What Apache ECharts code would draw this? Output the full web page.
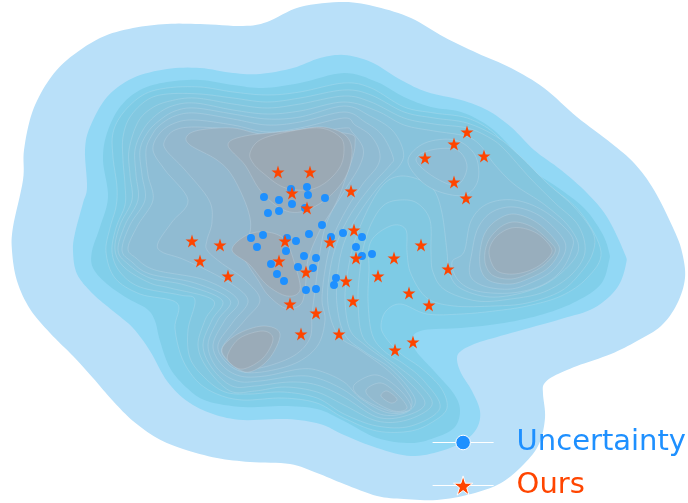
<!DOCTYPE html>
<html><head><meta charset="utf-8">
<style>html,body{margin:0;padding:0;background:#fff}#c{width:688px;height:503px}</style>
<script src="https://cdn.jsdelivr.net/npm/echarts@6/dist/echarts.min.js"></script>
</head><body><div id="c"></div>
<script>
// density contour levels
const level0=[[344,2],[377,7],[411,18],[444,37],[477,53],[511,68],[544,88],[577,117],[611,143],[634,163],[654,190],[674,230],[682,252],[685,278],[677,304],[661,326],[637,341],[611,354],[577,366],[554,376],[544,384],[543,394],[545,418],[539,444],[524,464],[501,483],[471,494],[437,500],[404,499],[377,496],[344,484],[317,473],[290,464],[250,462],[217,458],[183,449],[157,438],[133,421],[113,401],[93,378],[73,356],[50,333],[30,309],[17,281],[12,251],[13,227],[23,180],[24,150],[32,113],[47,83],[67,60],[100,38],[133,28],[167,24],[200,24],[243,26],[267,22],[300,7]];
const level1=[[344,55],[371,62],[401,80],[427,92],[461,100],[487,110],[511,127],[534,150],[561,170],[587,193],[607,217],[624,252],[626,264],[617,288],[594,308],[561,319],[511,333],[477,343],[461,351],[457,359],[461,373],[472,391],[480,411],[477,428],[464,441],[441,451],[411,456],[377,448],[344,435],[320,424],[287,419],[243,420],[213,414],[187,401],[167,381],[150,351],[133,328],[113,311],[93,294],[77,274],[73,251],[75,233],[83,203],[87,187],[85,150],[90,127],[107,97],[133,78],[167,69],[200,68],[233,73],[260,74],[293,68],[320,58]];
const level2=[[344,73],[377,82],[404,97],[431,107],[461,112],[487,125],[507,143],[527,167],[557,187],[584,208],[602,233],[609,252],[609,261],[601,284],[577,301],[544,314],[504,323],[461,328],[424,330],[412,338],[416,351],[434,371],[454,394],[460,411],[454,428],[434,438],[411,443],[377,438],[344,421],[317,409],[283,406],[243,407],[207,401],[187,388],[170,368],[160,341],[155,321],[147,309],[127,298],[107,284],[93,268],[92,251],[100,227],[108,197],[103,160],[107,133],[120,107],[140,90],[167,82],[200,80],[233,85],[263,88],[300,83]];
const level3=[[344,83],[371,88],[404,107],[434,113],[467,118],[494,133],[517,160],[551,187],[581,213],[601,252],[587,278],[561,296],[527,306],[494,311],[461,314],[427,314],[401,304],[386,311],[381,326],[386,338],[401,354],[421,368],[441,388],[447,408],[434,421],[411,431],[377,431],[344,418],[317,403],[283,398],[243,400],[217,394],[197,381],[182,358],[175,328],[177,303],[140,294],[115,278],[106,252],[110,228],[116,207],[117,187],[113,157],[113,133],[123,113],[143,95],[167,88],[200,87],[233,92],[267,95],[300,92]];
const level4=[[344,90],[371,95],[404,112],[434,118],[467,123],[497,137],[521,157],[547,183],[574,207],[593,233],[593,252],[582,271],[561,291],[527,303],[494,306],[454,306],[427,298],[411,274],[407,252],[406,230],[394,225],[377,234],[369,247],[369,270],[368,301],[372,334],[384,351],[404,364],[424,381],[440,408],[411,426],[377,426],[344,414],[317,398],[283,392],[250,394],[225,392],[205,378],[190,358],[188,330],[195,300],[180,295],[140,287],[120,272],[112,252],[116,228],[125,205],[125,185],[123,160],[123,137],[130,117],[147,100],[167,94],[200,94],[233,98],[267,102],[300,98]];
const level5=[[344,96],[371,102],[404,118],[434,124],[467,128],[490,138],[505,150],[530,178],[555,203],[578,225],[585,252],[571,275],[544,292],[511,299],[477,301],[445,290],[433,272],[431,252],[430,220],[417,203],[400,200],[384,205],[372,222],[364,245],[360,270],[358,300],[362,335],[378,352],[400,368],[420,385],[432,405],[407,420],[377,421],[344,405],[317,392],[285,387],[255,391],[230,391],[207,368],[198,345],[205,320],[213,300],[170,288],[150,283],[125,268],[115,250],[120,225],[132,200],[130,175],[129,150],[138,122],[152,108],[170,101],[195,98],[233,104],[267,108],[300,104]];
const level6=[[344,102],[377,111],[404,125],[434,131],[465,136],[480,145],[495,165],[515,185],[545,205],[570,228],[578,252],[555,278],[525,292],[490,297],[460,288],[449,272],[447,252],[442,213],[434,190],[420,180],[401,176],[385,183],[370,205],[355,240],[348,270],[345,300],[350,330],[365,345],[385,360],[405,378],[425,403],[405,416],[377,417],[344,397],[317,385],[290,382],[255,386],[232,386],[212,368],[203,345],[212,320],[222,300],[185,285],[150,278],[128,264],[118,250],[125,225],[138,200],[136,175],[135,150],[143,130],[155,116],[172,106],[195,103],[233,110],[267,114],[300,111]];
const level7=[[344,106],[370,116],[392,130],[403,150],[400,165],[380,185],[360,212],[345,240],[338,270],[337,305],[345,335],[365,352],[390,368],[410,390],[415,404],[402,414],[377,413],[344,390],[317,378],[295,376],[260,381],[237,381],[217,368],[208,345],[218,320],[230,300],[195,283],[150,274],[132,262],[122,250],[130,225],[145,200],[142,175],[140,150],[148,132],[160,120],[175,111],[195,108],[233,114],[267,119],[300,117]];
const level7Right=[[464,252],[471,221],[487,204],[514,200],[544,211],[571,235],[571,252],[560,272],[540,286],[511,293],[477,291],[458,280],[452,262]];
const level7Upper=[[408,160],[425,143],[455,140],[475,155],[478,180],[465,195],[440,192],[420,180]];
const level8=[[344,112],[365,122],[382,135],[393,157],[390,165],[372,185],[352,212],[338,240],[330,270],[328,305],[338,335],[360,350],[385,368],[402,385],[412,402],[405,412],[385,412],[360,398],[344,382],[320,371],[300,369],[265,376],[240,376],[222,365],[213,345],[225,320],[238,300],[205,280],[155,270],[136,258],[128,248],[138,225],[153,200],[148,175],[146,150],[152,135],[160,125],[175,116],[195,113],[233,119],[267,125],[300,122]];
const level8Right=[[472,252],[478,228],[492,212],[514,207],[540,216],[562,237],[565,252],[553,270],[535,281],[511,289],[484,286],[470,275]];
const level8Upper=[[416,160],[431,150],[457,150],[467,167],[457,185],[434,177]];
const level9=[[344,118],[355,125],[370,135],[379,150],[378,165],[362,185],[345,212],[332,240],[325,270],[322,300],[325,320],[318,345],[298,362],[268,371],[243,372],[226,362],[218,345],[233,322],[248,300],[225,280],[185,260],[162,252],[158,243],[172,222],[188,200],[165,170],[153,150],[160,133],[175,123],[195,120],[233,125],[267,132],[300,128]];
const level9Right=[[480,252],[485,233],[497,220],[514,214],[536,222],[555,240],[559,252],[548,268],[530,278],[511,284],[490,281],[481,270]];
const level9Lower=[[356,383],[377,375],[400,390],[411,408],[394,412],[370,403],[355,392]];
const level10=[[344,128],[352,132],[363,148],[360,165],[345,190],[330,215],[322,240],[315,290],[312,315],[310,338],[295,355],[268,366],[245,369],[230,362],[222,348],[245,320],[260,300],[245,280],[220,262],[207,250],[207,240],[212,222],[209,200],[185,170],[166,150],[165,140],[175,130],[195,127],[233,130],[267,138],[300,135]];
const level10Right=[[485,252],[490,238],[502,226],[516,222],[534,228],[551,243],[555,252],[544,265],[528,274],[511,279],[494,276],[486,266]];
const level10Lower=[[366,390],[381,383],[397,394],[407,408],[394,411],[374,401]];
const level11=[[187,136],[200,130],[233,128],[270,135],[344,133],[355,145],[345,180],[335,205],[320,230],[308,260],[305,290],[300,305],[285,308],[268,295],[258,280],[248,265],[240,250],[250,232],[248,210],[233,177],[217,160],[190,145]];
const level11Lower=[[222,352],[236,335],[263,326],[280,334],[268,360],[245,372]];
const level11Right=[[489,252],[495,238],[508,229],[522,228],[538,234],[550,246],[551,254],[540,265],[525,272],[508,274],[495,269]];
const level11Low2=[[381,396],[387,391],[397,399],[391,403]];
const level12=[[228,145],[245,136],[290,131],[322,127],[345,135],[352,152],[345,178],[325,200],[300,212],[280,208],[260,190],[245,165]];
const level12Center=[[232,250],[247,235],[267,232],[285,240],[295,265],[300,290],[287,296],[267,285],[250,265]];
const level12Lower=[[228,354],[240,338],[263,331],[273,339],[263,358],[243,369],[230,363]];
const level13=[[250,153],[260,140],[287,132],[320,128],[340,137],[344,150],[340,167],[325,183],[307,190],[283,187],[263,173],[253,163]];
const contourList=[level0,level1,level2,level3,level4,level5,level6,level7,level7Right,level7Upper,level8,level8Right,level8Upper,level9,level9Right,level9Lower,level10,level10Right,level10Lower,level11,level11Lower,level11Right,level11Low2,level12,level12Center,level12Lower,level13];
const contourColors=['#b9e0f9','#92d8f5','#81cfea','#7ecbe5','#82c8e1','#85c6de','#88c3dc','#8bc1d9','#8bc1d9','#8bc1d9','#8ebed6','#8ebed6','#8ebed6','#90bbd2','#92b9cd','#8fbdd4','#93b8ce','#95b3c5','#92bacf','#96b2c4','#97b0c0','#98aebd','#95b5c8','#99acba','#9aabb8','#9aabb8','#9ba9b4'];
const uncertainty=[[264,197],[279,200],[291,189],[292,204],[307,187],[308,195],[325,198],[305,208],[268,213],[279,211],[322,225],[309,234],[331,237],[343,233],[251,238],[263,235],[257,247],[287,238],[296,241],[286,251],[304,256],[316,258],[271,264],[298,267],[313,268],[277,274],[284,281],[336,278],[334,285],[306,290],[316,289],[362,237],[356,247],[362,256],[372,254]];
const ours=[[278,172],[310,172],[292,193],[307,208],[192,241],[220,245],[285,241],[330,242],[351,191],[354,230],[421,245],[425,158],[454,144],[467,132],[484,156],[454,182],[466,198],[200,261],[228,276],[279,261],[306,272],[290,304],[316,313],[301,334],[339,334],[346,281],[356,258],[394,258],[448,269],[378,276],[409,293],[429,305],[353,301],[413,342],[395,350]];
const seriesNames=['Uncertainty','Ours'];
const BLUE='#1e90ff',RED='#ff4500';
const STAR='path://M50 0 L61.8 36.3 L100 36.3 L69.1 58.8 L80.9 95.1 L50 72.6 L19.1 95.1 L30.9 58.8 L0 36.3 L38.2 36.3 Z';
// circle inside a 100-unit box, so the legend can size it smaller than the star
const DOT='path://M0 0 M100 100 M50 12 A38 38 0 1 1 49.99 12 Z';

// closed Catmull-Rom outline through the projected contour points
function smoothClosed(pts){
  const n=pts.length,out=[];
  for(let i=0;i<n;i++){
    const a=pts[(i-1+n)%n],b=pts[i],c=pts[(i+1)%n],d=pts[(i+2)%n];
    for(let k=0;k<8;k++){
      const t=k/8,t2=t*t,t3=t2*t;
      out.push([0,1].map(j=>0.5*(2*b[j]+(c[j]-a[j])*t+(2*a[j]-5*b[j]+4*c[j]-d[j])*t2+(3*b[j]-a[j]-3*c[j]+d[j])*t3)));
    }
  }
  return out;
}

const chart=echarts.init(document.getElementById('c'),null,{renderer:'canvas'});
chart.setOption({
  animation:false,
  backgroundColor:'#fff',
  grid:{left:0,right:0,top:0,bottom:0},
  xAxis:{type:'value',min:0,max:688,show:false},
  yAxis:{type:'value',min:0,max:503,inverse:true,show:false},
  legend:{
    orient:'vertical',left:432,top:428,padding:0,itemGap:14,itemWidth:61,itemHeight:24,
    selectedMode:false,
    data:[
      {name:seriesNames[0],lineStyle:{color:'#fff',width:1.2,opacity:1},itemStyle:{color:BLUE,borderColor:'#fff',borderWidth:1},textStyle:{color:BLUE}},
      {name:seriesNames[1],lineStyle:{color:'#fff',width:1.2,opacity:1},itemStyle:{color:RED,borderColor:'#fff',borderWidth:1},textStyle:{color:RED}}
    ],
    textStyle:{fontFamily:'DejaVu Sans',fontSize:29,padding:[0,0,0,18]}
  },
  series:[
    {type:'custom',silent:true,coordinateSystem:'cartesian2d',
     data:contourList.map((c,i)=>[c[0][0],c[0][1],i]),
     encode:{x:0,y:1},
     renderItem:(p,api)=>{
       const i=api.value(2);
       return {type:'polygon',
         shape:{points:smoothClosed(contourList[i].map(q=>api.coord(q)))},
         style:{fill:contourColors[i],stroke:i>2?'rgba(225,238,244,0.3)':null,lineWidth:i>2?0.7:0}};
     },z:1},
    {name:seriesNames[0],type:'line',data:uncertainty,symbol:DOT,symbolSize:10.5,showSymbol:true,
     lineStyle:{opacity:0,width:0},itemStyle:{color:BLUE},z:3,silent:true},
    {name:seriesNames[1],type:'line',data:ours,symbol:STAR,symbolSize:13,showSymbol:true,
     lineStyle:{opacity:0,width:0},itemStyle:{color:RED},z:4,silent:true}
  ]
});
</script></body></html>
